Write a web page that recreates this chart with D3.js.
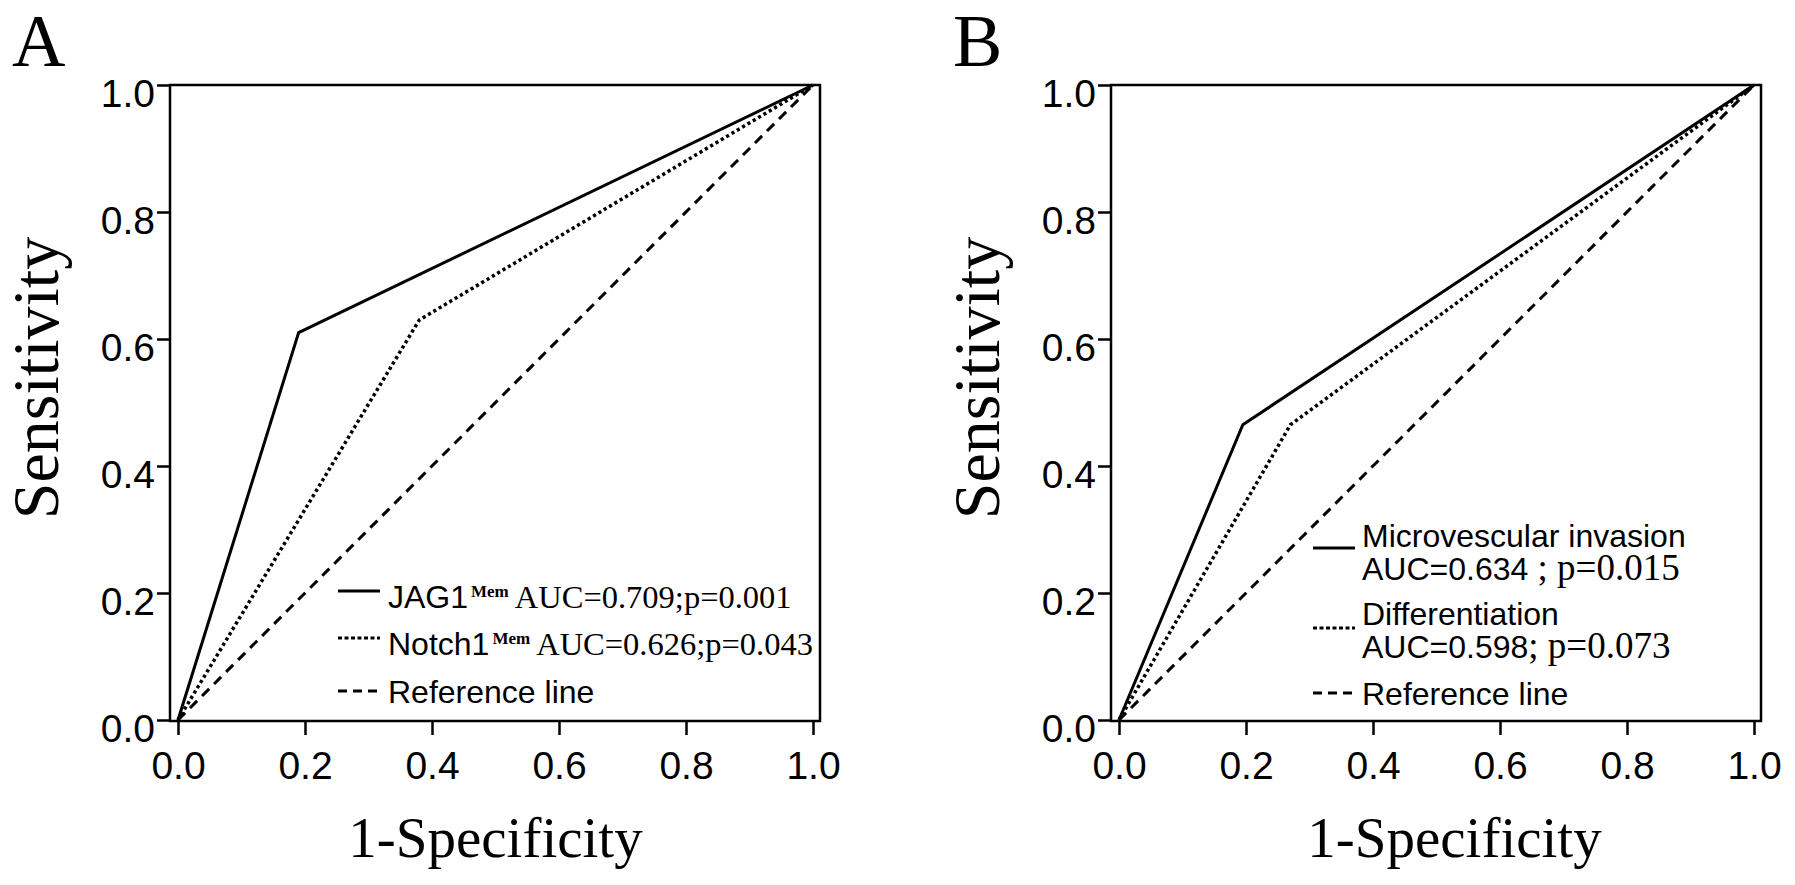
<!DOCTYPE html>
<html>
<head>
<meta charset="utf-8">
<script src="https://cdn.jsdelivr.net/npm/d3@7"></script>
<style>
  html, body { margin: 0; padding: 0; background: #fff; }
  svg { display: block; }
</style>
</head>
<body>
<svg id="chart" width="1795" height="885"></svg>
<script>
// ---- Data ----
const tickValues = [0, 0.2, 0.4, 0.6, 0.8, 1.0];
const tickLabels = ["0.0", "0.2", "0.4", "0.6", "0.8", "1.0"];

// Panel A
const jag1FPR = [0, 0.19, 1];
const jag1TPR = [0, 0.61, 1];
const notch1FPR = [0, 0.38, 1];
const notch1TPR = [0, 0.63, 1];
// Panel B
const microFPR = [0, 0.195, 1];
const microTPR = [0, 0.465, 1];
const diffFPR = [0, 0.27, 1];
const diffTPR = [0, 0.465, 1];
// Reference line
const refFPR = [0, 1];
const refTPR = [0, 1];

const panelLetters = ["A", "B"];
const xTitle = "1-Specificity";
const yTitle = "Sensitivity";

// ---- Drawing ----
const svg = d3.select("#chart");
svg.append("rect").attr("width", 1795).attr("height", 885).attr("fill", "#fff");

const SANS = "'Liberation Sans', Arial, sans-serif";
const SERIF = "'Liberation Serif', 'Times New Roman', serif";

const styles = {
  solid: null,
  dotted: "3.2,3",
  dashed: "10,7"
};

function zip(xs, ys) { return xs.map((x, i) => [x, ys[i]]); }

function drawPanel(dx, letter, series, titleShift, legendFn) {
  const g = svg.append("g").attr("transform", `translate(${dx},0)`);
  const box = { x0: 170, x1: 820, y0: 85, y1: 721 };
  const x = d3.scaleLinear().domain([0, 1]).range([178, 813]);
  const y = d3.scaleLinear().domain([0, 1]).range([720, 85]);

  // panel letter
  g.append("text").attr("x", 12).attr("y", 66)
    .attr("font-family", SERIF).attr("font-size", 74).text(letter);

  // axes
  const xAxis = d3.axisBottom(x).tickValues(tickValues)
    .tickFormat((d, i) => tickLabels[i]).tickSize(14).tickSizeOuter(0);
  const yAxis = d3.axisLeft(y).tickValues(tickValues)
    .tickFormat((d, i) => tickLabels[i]).tickSize(13).tickSizeOuter(0);

  const gx = g.append("g").attr("transform", `translate(0,${box.y1})`).call(xAxis);
  gx.select(".domain").remove();
  gx.selectAll(".tick line").attr("stroke", "#000").attr("stroke-width", 2.5);
  gx.selectAll(".tick text").attr("font-family", SANS).attr("font-size", 39)
    .attr("fill", "#000").attr("y", 58).attr("dy", 0);

  const gy = g.append("g").attr("transform", `translate(${box.x0},0)`).call(yAxis);
  gy.select(".domain").remove();
  gy.selectAll(".tick line").attr("stroke", "#000").attr("stroke-width", 2.5);
  gy.selectAll(".tick text").attr("font-family", SANS).attr("font-size", 39)
    .attr("fill", "#000").attr("x", -15).attr("dy", 21.5);

  // box
  g.append("rect").attr("x", box.x0).attr("y", box.y0)
    .attr("width", box.x1 - box.x0).attr("height", box.y1 - box.y0)
    .attr("fill", "none").attr("stroke", "#000").attr("stroke-width", 2.5);

  // curves
  const line = d3.line().x(d => x(d[0])).y(d => y(d[1]));
  series.forEach(s => {
    g.append("path").datum(zip(s.x, s.y)).attr("d", line)
      .attr("fill", "none").attr("stroke", "#000")
      .attr("stroke-width", s.style === "dotted" ? 3.5 : 3)
      .attr("stroke-dasharray", styles[s.style]);
  });

  // axis titles
  g.append("text").attr("x", (x(0) + x(1)) / 2 + titleShift).attr("y", 857)
    .attr("text-anchor", "middle").attr("font-family", SERIF).attr("font-size", 57)
    .text(xTitle);
  g.append("text").attr("transform", `translate(58,378) rotate(-90)`)
    .attr("text-anchor", "middle").attr("font-family", SERIF).attr("font-size", 66)
    .text(yTitle);

  legendFn(g);
}

function sample(g, x1, x2, yy, style) {
  g.append("line").attr("x1", x1).attr("x2", x2).attr("y1", yy).attr("y2", yy)
    .attr("stroke", "#000").attr("stroke-width", 3)
    .attr("stroke-dasharray", style === "dotted" ? "4,2.5" : style === "dashed" ? "9,6" : null);
}

// Panel A
drawPanel(0, panelLetters[0], [
  { x: refFPR, y: refTPR, style: "dashed" },
  { x: notch1FPR, y: notch1TPR, style: "dotted" },
  { x: jag1FPR, y: jag1TPR, style: "solid" }
], 0, g => {
  const entries = [
    { name: "JAG1", auc: "AUC=0.709;p=0.001", style: "solid", base: 608 },
    { name: "Notch1", auc: "AUC=0.626;p=0.043", style: "dotted", base: 655 }
  ];
  entries.forEach(e => {
    sample(g, 338, 380, e.base - 17, e.style);
    const t = g.append("text").attr("x", 388).attr("y", e.base).attr("fill", "#000");
    t.append("tspan").attr("font-family", SANS).attr("font-size", 32).text(e.name);
    t.append("tspan").attr("font-family", SERIF).attr("font-weight", "bold")
      .attr("font-size", 17).attr("dy", -11).attr("dx", 3).text("Mem");
    t.append("tspan").attr("font-family", SERIF).attr("font-size", 32.5)
      .attr("dy", 11).attr("dx", 6).text(e.auc);
  });
  sample(g, 338, 380, 691, "dashed");
  g.append("text").attr("x", 388).attr("y", 703).attr("font-family", SANS)
    .attr("font-size", 32).text("Reference line");
});

// Panel B
drawPanel(941, panelLetters[1], [
  { x: refFPR, y: refTPR, style: "dashed" },
  { x: diffFPR, y: diffTPR, style: "dotted" },
  { x: microFPR, y: microTPR, style: "solid" }
], 18, g => {
  const lx = 1362 - 941;
  const entries = [
    { name: "Microvescular invasion", auc: "AUC=0.634", p: " ; p=0.015", style: "solid", base: 547, sy: 548 },
    { name: "Differentiation", auc: "AUC=0.598", p: "; p=0.073", style: "dotted", base: 625, sy: 628 }
  ];
  entries.forEach(e => {
    sample(g, lx - 49, lx - 7, e.sy, e.style);
    g.append("text").attr("x", lx).attr("y", e.base).attr("font-family", SANS)
      .attr("font-size", 32).text(e.name);
    const t = g.append("text").attr("x", lx).attr("y", e.base + 33);
    t.append("tspan").attr("font-family", SANS).attr("font-size", 32).text(e.auc);
    t.append("tspan").attr("font-family", SERIF).attr("font-size", 37).text(e.p);
  });
  sample(g, lx - 49, lx - 7, 693, "dashed");
  g.append("text").attr("x", lx).attr("y", 705).attr("font-family", SANS)
    .attr("font-size", 32).text("Reference line");
});
</script>
</body>
</html>
